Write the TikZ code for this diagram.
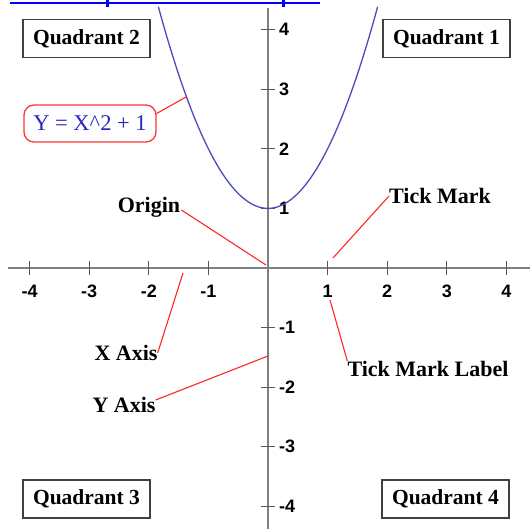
\documentclass[tikz,border=0pt]{standalone}
\usepackage{fontspec}
\setmainfont{Liberation Serif}
\setsansfont{Liberation Sans}
\begin{document}
\begin{tikzpicture}[x=1pt,y=-1pt,
  axisline/.style={draw=black!50, line width=2pt},
  tickline/.style={draw=black!65, line width=1.3pt},
  ticklbl/.style={font=\sffamily\bfseries\fontsize{18}{20}\selectfont, inner sep=0pt},
  quadbox/.style={draw=black!75, line width=1.3pt, minimum width=127pt, minimum height=38pt, inner sep=0pt, font=\bfseries\fontsize{21.5}{23}\selectfont},
  callout/.style={font=\bfseries\fontsize{22}{24}\selectfont, inner sep=0pt},
  pointer/.style={draw=red!85!white, line width=1.1pt},
  curve/.style={draw=blue!60!black!70!white, line width=1.3pt}
]
\useasboundingbox (0,0) rectangle (530,529);
% cut-off link at the top
\draw[blue, line width=2.5pt] (10,3) -- (320,3);
\draw[blue, line width=3pt] (107,0) -- (107,7);
\draw[blue, line width=3pt] (283,0) -- (283,7);
% axes
\coordinate (O) at (268,268);
\coordinate (xl) at (8,268);
\coordinate (xr) at (530,268);
\coordinate (yt) at (268,8);
\coordinate (yb) at (268,529);
\draw[axisline] (xl) -- (xr);
\draw[axisline] (yt) -- (yb);
% ticks and labels
\foreach \k in {-4,-3,-2,-1,1,2,3,4}{
  \draw[tickline] ({268+59.6*\k},261) -- ({268+59.6*\k},275);
  \node[ticklbl] (xt\k) at ({268+59.6*\k},291) {\k};
  \draw[tickline] (261,{268-59.6*\k}) -- (275,{268-59.6*\k});
  \node[ticklbl, anchor=west] (yt\k) at (279,{268-59.6*\k}) {\k};
}
% parabola
\draw[curve] plot[domain=-1.84:1.84, samples=80, smooth] ({268+59.6*\x},{268-59.6*(\x*\x+1)});
% quadrant boxes
\node[quadbox] (q2) at (86.5,38.5) {Quadrant 2};
\node[quadbox] (q1) at (446.5,38.5) {Quadrant 1};
\node[quadbox] (q3) at (86.5,499) {Quadrant 3};
\node[quadbox] (q4) at (445.5,499) {Quadrant 4};
% equation label
\node[draw=red!80!white, line width=1.3pt, rounded corners=10pt, minimum width=132pt, minimum height=37pt, inner sep=0pt, text=blue!70!black!85!white, font=\fontsize{22.5}{24}\selectfont] (eq) at (90,123.5) {Y = X\^{}2 + 1};
\coordinate (pb) at (186,97);
\draw[pointer] ([yshift=10pt]eq.east) -- (pb);
% callouts
\node[callout] (orig) at (149,207) {Origin};
\coordinate (po) at (266,265);
\draw[pointer] ([xshift=1pt,yshift=-3pt]orig.east) -- (po);
\node[callout] (tm) at (440,196) {Tick Mark};
\coordinate (ptm) at (333,258);
\draw[pointer] (tm.west) -- (ptm);
\node[callout] (tml) at (428,369) {Tick Mark Label};
\coordinate (ptml) at (330,300);
\draw[pointer] (tml.north west) -- (ptml);
\node[callout] (xa) at (126,353) {X Axis};
\coordinate (pxa) at (183,273);
\draw[pointer] (xa.east) -- (pxa);
\node[callout] (ya) at (124,405) {Y Axis};
\coordinate (pya) at (268,356);
\draw[pointer] ([yshift=5pt]ya.east) -- (pya);
\end{tikzpicture}
\end{document}
